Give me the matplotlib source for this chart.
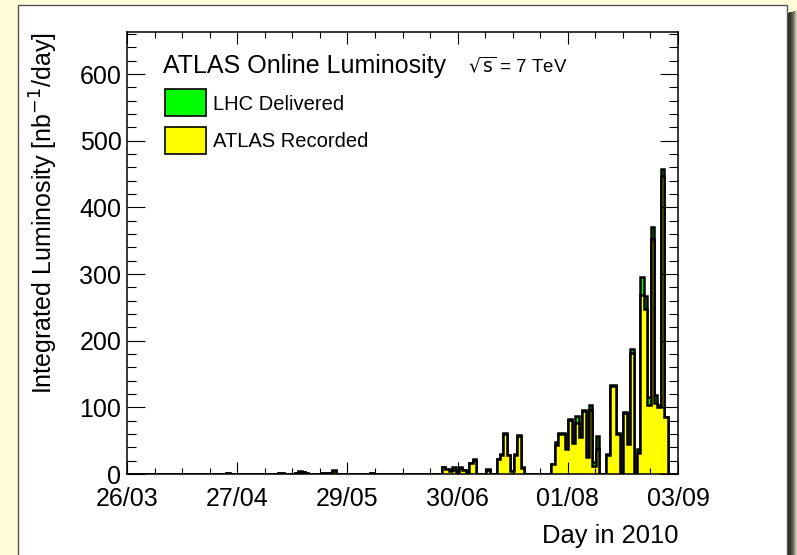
import matplotlib.pyplot as plt
import numpy as np
from matplotlib.patches import Rectangle, Patch
from matplotlib.ticker import FixedLocator, MultipleLocator

plt.rcParams['font.family'] = ['Liberation Sans', 'DejaVu Sans']

# one bin per day, day 0 = 26/03/2010
n_days = 161
date_labels = ['26/03', '27/04', '29/05', '30/06', '01/08', '03/09']

# days with beam, and luminosity per day [nb^-1]
lumi_days = [29, 44, 45, 49, 50, 51, 52, 57, 58, 59, 60, 71,
             92, 93, 94, 95, 96, 97, 98, 100, 101, 105,
             108, 109, 110, 111, 112, 113, 114, 115,
             124, 125, 126, 127, 128, 129, 130, 131, 132, 133, 134, 135, 136, 137,
             140, 141, 142, 143, 145, 146, 147, 149,
             150, 151, 152, 153, 154, 155, 156, 157]
lhc_delivered = [2, 2, 2, 2, 4, 3, 2, 2, 2, 2, 6, 2,
                 11, 8, 5, 10, 4, 10, 6, 17, 22, 7,
                 23, 30, 61, 29, 5, 30, 58, 10,
                 15, 48, 61, 61, 38, 82, 47, 87, 56, 96, 28, 103, 18, 57,
                 30, 133, 133, 61, 93, 46, 187, 38,
                 295, 267, 115, 370, 118, 103, 458, 86]
atlas_recorded = [1.5, 1.5, 1.5, 1, 3, 2.5, 1, 1.5, 1.5, 1.5, 5, 1.5,
                  10.5, 7, 4.5, 6, 3.5, 9.5, 5.5, 16.5, 21.5, 6.5,
                  22, 29, 60, 28, 4.5, 29, 57, 9.5,
                  14.5, 44, 60, 60, 37, 81, 46, 77, 55, 95, 25, 96, 12, 37,
                  29, 132, 132, 60, 92, 45, 182, 32,
                  268, 247, 103, 352, 106, 101, 447, 85]

edges = np.arange(n_days + 1)
delivered = np.zeros(n_days)
recorded = np.zeros(n_days)
delivered[lumi_days] = lhc_delivered
recorded[lumi_days] = atlas_recorded

W, H = 797, 555
fig = plt.figure(figsize=(W / 100, H / 100), dpi=100)
fig.patch.set_facecolor('#fffcd8')

# white canvas with a drop shadow on the right
bg = fig.add_axes([0, 0, 1, 1], zorder=-1)
bg.set_xlim(0, W)
bg.set_ylim(H, 0)
bg.axis('off')
for i in range(10):
    a = 0.95 * (1 - (i / 10) ** 2)
    bg.add_patch(Rectangle((787 + i, 13 - i * 0.3), 1, H, facecolor='#1c1c14',
                           edgecolor='none', alpha=a))
bg.add_patch(Rectangle((18, 5), 769, H, facecolor='white', edgecolor='#555555', lw=1))

ax = fig.add_axes([127 / W, 1 - 474 / H, 551 / W, 442 / H])
ax.set_facecolor('white')

ax.stairs(delivered, edges, fill=True, facecolor='#00ff00', edgecolor='black', lw=1.8)
ax.stairs(recorded, edges, fill=True, facecolor='#ffff00', edgecolor='black', lw=1.8)

ax.set_xlim(0, n_days)
ax.set_ylim(0, 663)
ax.set_xticks(np.linspace(0, n_days, 6), date_labels)
ax.xaxis.set_minor_locator(FixedLocator(np.linspace(0, n_days, 21)))
ax.yaxis.set_major_locator(MultipleLocator(100))
ax.yaxis.set_minor_locator(MultipleLocator(20))
ax.tick_params(which='both', direction='in', top=True, right=True, labelsize=18, width=0.8)
ax.tick_params(axis='y', which='major', length=13, pad=4)
ax.tick_params(axis='y', which='minor', length=6.5)
ax.tick_params(axis='x', which='major', length=8.6, pad=9)
ax.tick_params(axis='x', which='minor', length=4.3)
for s in ax.spines.values():
    s.set_linewidth(1.1)

ax.set_ylabel('Integrated Luminosity [nb$^{-1}$/day]', fontsize=18, loc='top')
ax.yaxis.set_label_coords(-0.122, 1.0)
ax.set_xlabel('Day in 2010', fontsize=18.4, loc='right')
ax.xaxis.set_label_coords(1.0, -0.113)

ax.text(0.0653, 0.908, 'ATLAS Online Luminosity', transform=ax.transAxes,
        fontsize=18, va='baseline')
ax.text(0.619, 0.908, r'$\sqrt{\mathrm{s}}$ = 7 TeV', transform=ax.transAxes,
        fontsize=13.5, va='baseline')

handles = [Patch(facecolor='#00ff00', edgecolor='black', lw=1.2, label='LHC Delivered'),
           Patch(facecolor='#ffff00', edgecolor='black', lw=1.2, label='ATLAS Recorded')]
ax.legend(handles=handles, loc='upper left', bbox_to_anchor=(0.069, 0.870),
          frameon=False, fontsize=14.5, handlelength=2.04, handleheight=1.686,
          handletextpad=0.35, labelspacing=0.52, borderpad=0, borderaxespad=0)

fig.savefig('out.png', dpi=100, facecolor=fig.get_facecolor())
